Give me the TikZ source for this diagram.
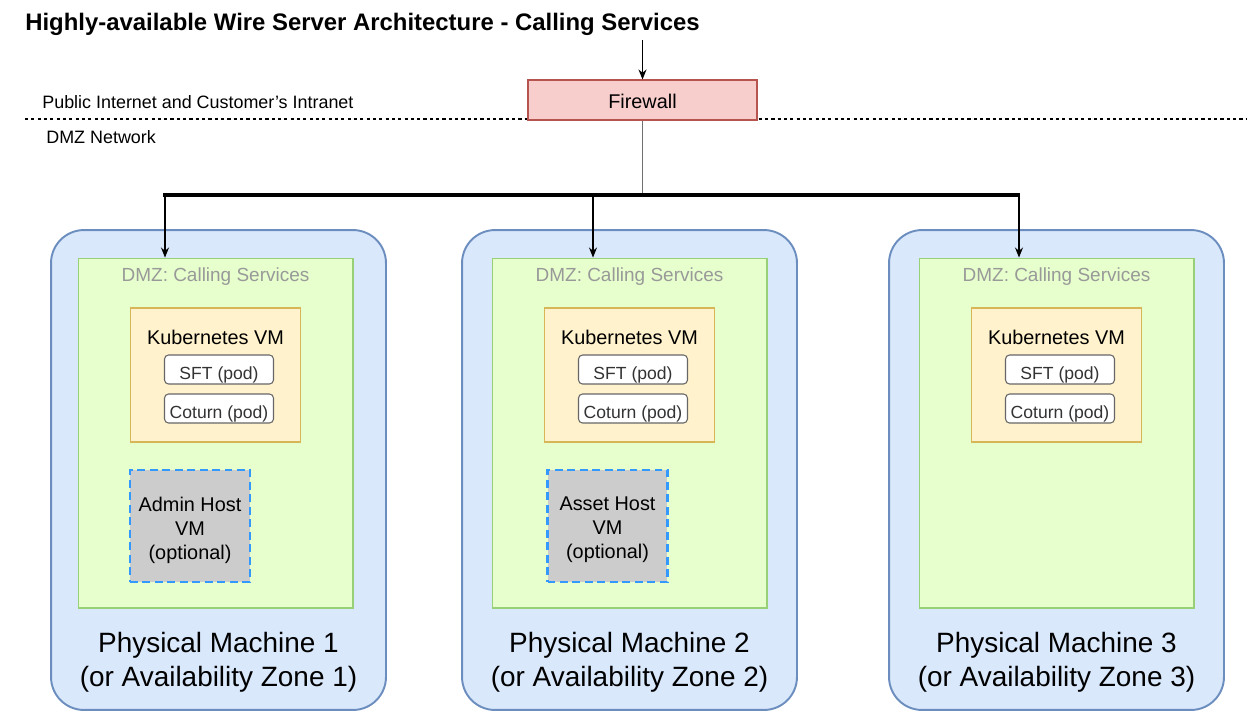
\documentclass[tikz,border=0pt]{standalone}
\usepackage{fontspec}
\setmainfont{Liberation Sans}
\usetikzlibrary{arrows.meta}

\definecolor{machinefill}{HTML}{DAE8FC}
\definecolor{machineline}{HTML}{6C8EBF}
\definecolor{dmzfill}{HTML}{E6FFCC}
\definecolor{dmzline}{HTML}{97D077}
\definecolor{k8sfill}{HTML}{FFF2CC}
\definecolor{k8sline}{HTML}{D6B656}
\definecolor{fwfill}{HTML}{F8CECC}
\definecolor{fwline}{HTML}{B85450}
\definecolor{optfill}{HTML}{CCCCCC}
\definecolor{optline}{HTML}{3399FF}
\definecolor{podline}{HTML}{666666}
\definecolor{podtext}{HTML}{333333}
\definecolor{dmztext}{HTML}{999999}
\definecolor{uplinkgray}{HTML}{707070}

\tikzset{
  heading/.style={font=\fontsize{13.6}{16}\selectfont\bfseries, inner sep=0pt},
  zone/.style={font=\fontsize{10.2}{12}\selectfont, inner sep=0pt},
  firewall/.style={draw=fwline, fill=fwfill, line width=0.6pt, minimum width=4.58cm,
    minimum height=0.8cm, inner sep=0pt, text height=0.95em, text depth=0pt,
    font=\fontsize{11.3}{13.6}\selectfont},
  machine/.style={draw=machineline, fill=machinefill, line width=1.1pt,
    rounded corners=0.66cm, minimum width=6.7cm, minimum height=9.6cm, inner sep=0pt},
  dmz/.style={draw=dmzline, fill=dmzfill, line width=0.6pt, minimum width=5.5cm,
    minimum height=7cm, inner sep=0pt},
  dmzlabel/.style={text=dmztext, font=\fontsize{10.8}{13}\selectfont, inner sep=0pt},
  k8s/.style={draw=k8sline, fill=k8sfill, line width=0.6pt, minimum width=3.4cm,
    minimum height=2.68cm, inner sep=0pt},
  k8slabel/.style={font=\fontsize{11.3}{13.6}\selectfont, inner sep=0pt},
  pod/.style={draw=podline, fill=white, line width=0.6pt, rounded corners=0.08cm,
    minimum width=2.18cm, minimum height=0.58cm, inner sep=0pt, text=podtext,
    text height=1.1em, text depth=0pt, font=\fontsize{10}{12}\selectfont},
  optvm/.style={draw=optline, fill=optfill, line width=1.4pt,
    dash pattern=on 4.5pt off 2.6pt, minimum width=2.4cm, minimum height=2.24cm,
    inner sep=0pt},
  optlabel/.style={align=center, inner sep=0pt, font=\fontsize{11.3}{13.6}\selectfont},
  pmlabel/.style={align=center, inner sep=0pt, font=\fontsize{15.9}{19.3}\selectfont},
  drop/.style={-{Stealth[length=0.2cm,width=0.16cm]}, line width=0.6pt},
  uplink/.style={draw=uplinkgray, line width=0.8pt},
  bus/.style={line width=2.2pt},
}

\begin{document}
\begin{tikzpicture}[x=0.02cm, y=-0.02cm]
  \useasboundingbox (0,0) rectangle (1252,711);

  % Title and the two network zones
  \node[heading, anchor=west] (title) at (25,24.5) {Highly-available Wire Server Architecture - Calling Services};
  \node[zone, anchor=west] (public) at (42,102) {Public Internet and Customer's Intranet};
  \node[zone, anchor=west] (dmznet) at (46,137) {DMZ Network};
  \coordinate (zonel) at (25,119);
  \coordinate (zoner) at (1247,119);
  \draw[dash pattern=on 1.8pt off 1.8pt, line width=0.6pt] (zonel) -- (zoner);

  % Firewall and the bus below it
  \coordinate (inet) at (642.5,40);
  \node[firewall] (fw) at (642.5,100) {Firewall};
  \draw[drop] (inet) -- (fw.north);
  \coordinate (busl) at (163,195);
  \coordinate (busr) at (1020,195);
  \draw[uplink] (fw.south) -- (fw.south |- busl);
  \draw[bus] (busl) -- (busr);

  % One machine per availability zone
  \foreach \i/\mx/\dx/\bx in {1/218.5/215.5/165, 2/629.5/629.5/593, 3/1056.5/1056.5/1019} {
    \node[machine] (m\i) at (\mx,470) {};
    \node[dmz] (d\i) at (\dx,433) {};
    \node[dmzlabel] (dl\i) at (\dx,276.5) {DMZ: Calling Services};
    \node[k8s] (k\i) at (\dx,375) {};
    \node[k8slabel] (kl\i) at (\dx,337) {Kubernetes VM};
    \node[pod] (sft\i) at (\dx+3.5,369.5) {SFT (pod)};
    \node[pod] (coturn\i) at (\dx+3.5,408.5) {Coturn (pod)};
    \node[pmlabel] (pm\i) at (\mx,662.5) {Physical Machine \i\\(or Availability Zone \i)};
    \coordinate (b\i) at (\bx,195);
    \draw[drop] (b\i) -- (b\i |- d\i.north);
  }

  % Optional VMs
  \node[optvm] (admin) at (190,526) {};
  \node[optlabel] (adminl) at (190,530) {Admin Host\\VM\\(optional)};
  \node[optvm] (asset) at (607.5,526) {};
  \node[optlabel] (assetl) at (607.5,530) {Asset Host\\VM\\(optional)};
\end{tikzpicture}
\end{document}
